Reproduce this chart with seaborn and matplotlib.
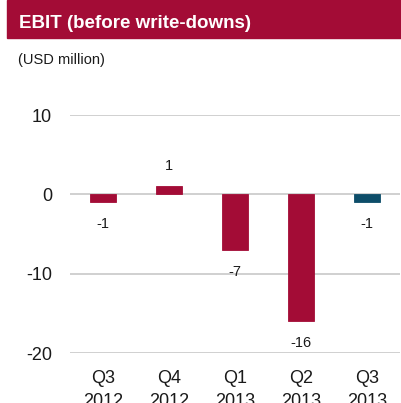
import numpy as np
import pandas as pd
import seaborn as sns
import matplotlib.pyplot as plt
from matplotlib.patches import Rectangle

# chart data
quarters = ["Q3\n2012", "Q4\n2012", "Q1\n2013", "Q2\n2013", "Q3\n2013"]
ebit = [-1, 1, -7, -16, -1]
bar_colors = ["#A30C36", "#A30C36", "#A30C36", "#A30C36", "#0D4D69"]
y_ticks = [-20, -10, 0, 10]

df = pd.DataFrame({"quarter": quarters, "ebit": ebit})

sns.set_style("white")
plt.rcParams["font.family"] = ["Liberation Sans", "DejaVu Sans"]
plt.rcParams["axes.unicode_minus"] = False

fig = plt.figure(figsize=(4.01, 4.03), dpi=100)
ax = fig.add_axes([70 / 401, 1 - 353 / 403, 330 / 401, 238 / 403])

sns.barplot(data=df, x="quarter", y="ebit", hue="quarter", palette=bar_colors,
            legend=False, width=0.4, saturation=1, ax=ax, linewidth=0.6, zorder=3)
for patch, c in zip(ax.patches, bar_colors):
    patch.set_edgecolor(c)

ax.set_xlim(-0.5, 4.5)
ax.set_ylim(-20, 10)
ax.set_yticks(y_ticks)
ax.grid(axis="y", color="#C8C8C8", linewidth=1.2, zorder=0)
ax.grid(axis="x", visible=False)
for s in ax.spines.values():
    s.set_visible(False)
ax.set_xlabel("")
ax.set_ylabel("")
ax.tick_params(axis="y", labelsize=13, pad=13, length=0, colors="#1a1a1a")
ax.tick_params(axis="x", labelsize=13, pad=12, length=0, colors="#1a1a1a")
for lbl in ax.get_xticklabels():
    lbl.set_linespacing(1.45)

# value labels
for i, v in enumerate(ebit):
    off = 15 if v > 0 else -16
    ax.annotate(f"{v}", xy=(i, v), xytext=(0, off), textcoords="offset points",
                ha="center", va="center", fontsize=10.5, color="#1a1a1a")

# header band
fig.patches.append(Rectangle((7 / 401, 1 - 38 / 403), 394 / 401, 38 / 403,
                             transform=fig.transFigure, color="#A30C36", zorder=0))
fig.text(19 / 401, 1 - 24 / 403, "EBIT (before write-downs)", color="white",
         fontsize=13.5, fontweight="bold", ha="left", va="center")
fig.text(18 / 401, 1 - 60 / 403, "(USD million)", color="#1a1a1a",
         fontsize=10.5, ha="left", va="center")

fig.savefig("out.png", dpi=100)
